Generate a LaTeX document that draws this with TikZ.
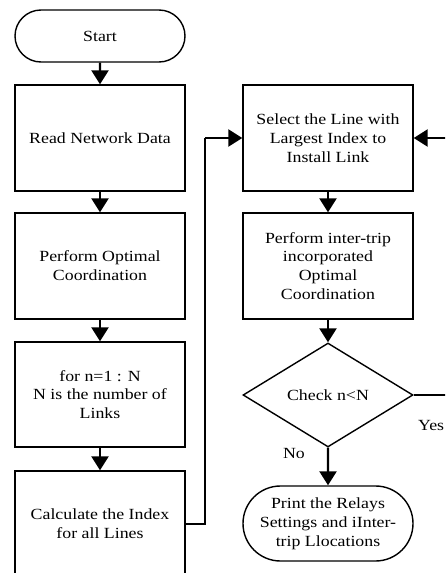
\documentclass[tikz,border=0pt]{standalone}
\usepackage{fontspec}
\setmainfont{Liberation Serif}[FakeStretch=1.15]
\usetikzlibrary{shapes.geometric,shapes.misc,arrows.meta}
\begin{document}
\begin{tikzpicture}[x=1pt,y=-1pt,
  every node/.style={font=\fontsize{15.5}{18.8}\selectfont, align=center, inner sep=0pt},
  procbox/.style={draw, line width=1.4pt, rectangle, minimum width=170pt, minimum height=106pt},
  termbox/.style={draw, line width=1.4pt, rounded rectangle, minimum width=170pt},
  decbox/.style={draw, line width=1.4pt, diamond, aspect=1.63, minimum width=170pt, minimum height=104pt},
  flow/.style={line width=2.4pt, -{Triangle[length=14pt,width=17pt]}},
  plain/.style={line width=2pt}]
\clip (0,0) rectangle (445,573);
\fill[white] (0,0) rectangle (445,573);
\node[termbox, minimum height=52pt] (start) at (100,36) {Start};
\node[procbox] (read) at (100,138) {Read Network Data};
\node[procbox] (perf) at (100,266) {Perform Optimal\\Coordination};
\node[procbox, minimum height=105pt] (forn) at (100,394.5) {for n=1 : N\\N is the number of\\Links};
\node[procbox] (calc) at (100,524) {Calculate the Index\\for all Lines};
\node[procbox] (sel) at (328,138) {Select the Line with\\Largest Index to\\Install Link};
\node[procbox] (inter) at (328,266) {Perform inter-trip\\incorporated\\Optimal\\Coordination};
\node[decbox] (check) at (328,395) {Check n<N};
\node[termbox, minimum height=75pt] (print) at (328,523.5) {Print the Relays\\Settings and iInter-\\trip Llocations};
\coordinate (turn1) at (205,524);
\coordinate (turn2) at (205,138);
\coordinate (yes1) at (470,395);
\coordinate (yes2) at (470,138);
\draw[flow] (start) -- (read);
\draw[flow] (read) -- (perf);
\draw[flow] (perf) -- (forn);
\draw[flow] (forn) -- (calc);
\draw[plain] (calc.east) -- (turn1) -- (turn2);
\draw[flow] (turn2) -- (sel.west);
\draw[flow] (sel) -- (inter);
\draw[flow] (inter) -- (check);
\draw[flow] (check) -- (print);
\draw[plain] (check.east) -- (yes1) -- (yes2);
\draw[flow] (yes2) -- (sel.east);
\node[anchor=west] (yeslbl) at (418,425) {Yes};
\node (nolbl) at (294,453) {No};
\end{tikzpicture}
\end{document}
